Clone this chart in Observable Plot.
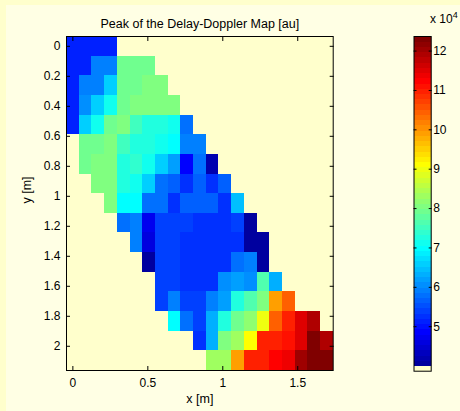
<!DOCTYPE html>
<html>
<head>
<meta charset="utf-8">
<script src="https://cdn.jsdelivr.net/npm/d3@7"></script>
<script src="https://cdn.jsdelivr.net/npm/@observablehq/plot@0.6"></script>
<style>
  html, body { margin: 0; padding: 0; background: #FFFFCC; }
  #root { position: relative; width: 460px; height: 411px; overflow: hidden;
          font-family: "Liberation Sans", Arial, sans-serif; color: #000; }
  #fig { position: absolute; left: 6px; top: 5px; width: 454px; height: 406px; background: #FFFFE4; }
  .abs { position: absolute; }
  #main { left: 0; top: 0; }
  #cbar { left: 400px; top: 0; }
  #exp { left: 430px; top: 13px; font-size: 12px; line-height: 12px; white-space: nowrap; }
  #exp sup { font-size: 9px; vertical-align: 5px; line-height: 0; }
</style>
</head>
<body>
<div id="root">
  <div id="fig"></div>
  <div id="main" class="abs"></div>
  <div id="cbar" class="abs"></div>
  <div id="exp" class="abs">x 10<sup>4</sup></div>
</div>
<script>
// ---- data (values in units of 10^4, au) ----
const title = "Peak of the Delay-Doppler Map [au]";
const xLabel = "x [m]";
const yLabel = "y [m]";
const xCenters = [0, 0.085, 0.169, 0.254, 0.339, 0.424, 0.508, 0.593, 0.678, 0.762, 0.847,
                  0.932, 1.016, 1.101, 1.186, 1.271, 1.355, 1.44, 1.525, 1.609, 1.694];
const yCenters = [0, 0.131, 0.262, 0.393, 0.524, 0.655, 0.786, 0.917, 1.048, 1.179, 1.31,
                  1.441, 1.572, 1.703, 1.834, 1.965, 2.096];
const _ = null;
const row00 = [5.1, 5.1, 5.1, 5.1, _, _, _, _, _, _, _, _, _, _, _, _, _, _, _, _, _];
const row01 = [5.1, 5.1, 5.87, 5.94, 7.86, 7.86, 7.86, _, _, _, _, _, _, _, _, _, _, _, _, _, _];
const row02 = [5.1, 5.87, 5.94, 6.53, 7.86, 7.86, 7.99, 7.99, _, _, _, _, _, _, _, _, _, _, _, _, _];
const row03 = [5.1, 6.0, 6.59, 7.19, 7.86, 7.99, 7.99, 7.99, 8.12, _, _, _, _, _, _, _, _, _, _, _, _];
const row04 = [5.1, 6.53, 7.19, 7.86, 7.99, 7.46, 7.32, 7.32, 7.19, 5.73, _, _, _, _, _, _, _, _, _, _, _];
const row05 = [_, 7.86, 7.86, 7.99, 7.46, 7.32, 7.32, 7.19, 6.93, 5.87, 5.87, _, _, _, _, _, _, _, _, _, _];
const row06 = [_, 7.86, 7.99, 7.99, 7.32, 7.4, 7.19, 6.53, 6.13, 4.93, 5.73, 4.2, _, _, _, _, _, _, _, _, _];
const row07 = [_, _, 7.99, 7.99, 7.32, 7.19, 6.53, 5.73, 5.6, 5.33, 5.6, 5.33, 5.6, _, _, _, _, _, _, _, _];
const row08 = [_, _, _, 7.99, 6.93, 6.93, 5.73, 5.73, 5.33, 5.6, 5.6, 5.6, 5.33, 6.45, _, _, _, _, _, _, _];
const row09 = [_, _, _, _, 5.73, 5.87, 4.72, 5.46, 5.46, 5.46, 5.33, 5.25, 5.25, 5.46, 4.13, _, _, _, _, _, _];
const row10 = [_, _, _, _, _, 5.87, 4.64, 5.46, 5.46, 5.33, 5.2, 5.2, 5.2, 5.33, 4.13, 4.13, _, _, _, _, _];
const row11 = [_, _, _, _, _, _, 4.13, 5.46, 5.46, 5.2, 5.2, 5.2, 5.2, 5.73, 5.87, 4.13, _, _, _, _, _];
const row12 = [_, _, _, _, _, _, _, 5.46, 5.4, 5.2, 5.2, 5.2, 6.0, 6.26, 6.0, 7.59, 6.39, _, _, _, _];
const row13 = [_, _, _, _, _, _, _, 5.46, 5.87, 5.46, 5.46, 5.87, 6.26, 7.32, 7.72, 7.99, 9.85, 10.5, _, _, _];
const row14 = [_, _, _, _, _, _, _, _, 7.0, 5.73, 5.46, 6.33, 7.32, 7.86, 8.2, 8.99, 10.38, 11.04, 11.56, 11.84, _];
const row15 = [_, _, _, _, _, _, _, _, _, _, 5.33, 6.33, 7.99, 8.26, 9.06, 10.91, 10.98, 11.11, 11.56, 12.35, 11.84];
const row16 = [_, _, _, _, _, _, _, _, _, _, _, 8.26, 8.26, 9.91, 10.91, 11.04, 11.18, 11.31, 12.09, 12.3, 12.3];
const peakRows = [row00, row01, row02, row03, row04, row05, row06, row07, row08, row09, row10,
                  row11, row12, row13, row14, row15, row16];
const xTicks = [0, 0.5, 1, 1.5];
const yTicks = [0, 0.2, 0.4, 0.6, 0.8, 1, 1.2, 1.4, 1.6, 1.8, 2];
const cbTicks = [5, 6, 7, 8, 9, 10, 11, 12];
const cRange = [3.87, 12.37];

// ---- colormap: MATLAB jet(64) with first entry replaced by background ----
const NAN_COLOR = "#FFFFCC";
const clamp = v => Math.max(0, Math.min(1, v));
function jet(t) {
  return [clamp(Math.min(4 * t - 1.5, -4 * t + 4.5)),
          clamp(Math.min(4 * t - 0.5, -4 * t + 3.5)),
          clamp(Math.min(4 * t + 0.5, -4 * t + 2.5))];
}
function cmap(t) {
  const k = Math.max(1, Math.min(64, Math.floor(t * 64) + 1));
  if (k <= 1) return NAN_COLOR;
  const [r, g, b] = jet(k / 64);
  return d3.rgb(r * 255, g * 255, b * 255).formatHex();
}

// ---- table of cells ----
const dx = xCenters[1] - xCenters[0];
const dy = yCenters[1] - yCenters[0];
const cells = [];
peakRows.forEach((row, j) => row.forEach((v, i) => {
  if (v != null) cells.push({x1: xCenters[i] - dx / 2, x2: xCenters[i] + dx / 2,
                             y1: yCenters[j] - dy / 2, y2: yCenters[j] + dy / 2, v});
}));

const font = "Liberation Sans, Arial, sans-serif";
const colorOpts = {type: "linear", domain: cRange, interpolate: cmap};

const main = Plot.plot({
  width: 460, height: 411,
  marginLeft: 66, marginRight: 127.3, marginTop: 36, marginBottom: 41,
  style: {background: "transparent", fontFamily: font, fontSize: "12px", color: "black", overflow: "visible"},
  x: {domain: [xCenters[0] - dx / 2, xCenters[xCenters.length - 1] + dx / 2], axis: null},
  y: {domain: [yCenters[0] - dy / 2, yCenters[yCenters.length - 1] + dy / 2], reverse: true, axis: null},
  color: colorOpts,
  marks: [
    Plot.frame({fill: NAN_COLOR}),
    Plot.rect(cells, {x1: "x1", x2: "x2", y1: "y1", y2: "y2", fill: "v", shapeRendering: "crispEdges"}),
    Plot.axisX({anchor: "bottom", ticks: xTicks, tickFormat: d => String(d), tickSize: -4, tickPadding: 11.5, label: null, fontSize: 12}),
    Plot.axisX({anchor: "top", ticks: xTicks, tickFormat: () => "", tickSize: -4, label: null}),
    Plot.axisY({anchor: "left", ticks: yTicks, tickFormat: d => String(d), tickSize: -4, tickPadding: 10, label: null, fontSize: 12}),
    Plot.axisY({anchor: "right", ticks: yTicks, tickFormat: () => "", tickSize: -4, label: null}),
    Plot.frame({stroke: "black"}),
    Plot.text([title], {text: d => d, frameAnchor: "top", dy: -9, lineAnchor: "bottom", fontSize: 12.5}),
    Plot.text([xLabel], {text: d => d, frameAnchor: "bottom", dy: 32, lineAnchor: "bottom", fontSize: 12.5}),
    Plot.text([yLabel], {text: d => d, frameAnchor: "left", dx: -35.3, rotate: -90, lineAnchor: "bottom", fontSize: 12.5})
  ]
});
document.getElementById("main").append(main);

const cbar = Plot.plot({
  width: 60, height: 411,
  marginLeft: 13.5, marginRight: 29.3, marginTop: 36, marginBottom: 40.3,
  style: {background: "transparent", fontFamily: font, fontSize: "12px", color: "black", overflow: "visible"},
  x: {domain: [0, 1], axis: null},
  y: {domain: cRange, axis: null},
  color: colorOpts,
  marks: [
    Plot.raster({x1: 0, x2: 1, y1: cRange[0], y2: cRange[1], width: 1, height: 640,
                 fill: (x, y) => y, imageRendering: "pixelated"}),
    Plot.axisY({anchor: "right", ticks: cbTicks, tickFormat: d => String(d), tickSize: -3, tickPadding: 5, label: null, fontSize: 12}),
    Plot.axisY({anchor: "left", ticks: cbTicks, tickFormat: () => "", tickSize: -3, label: null}),
    Plot.frame({stroke: "black"})
  ]
});
document.getElementById("cbar").append(cbar);
</script>
</body>
</html>
